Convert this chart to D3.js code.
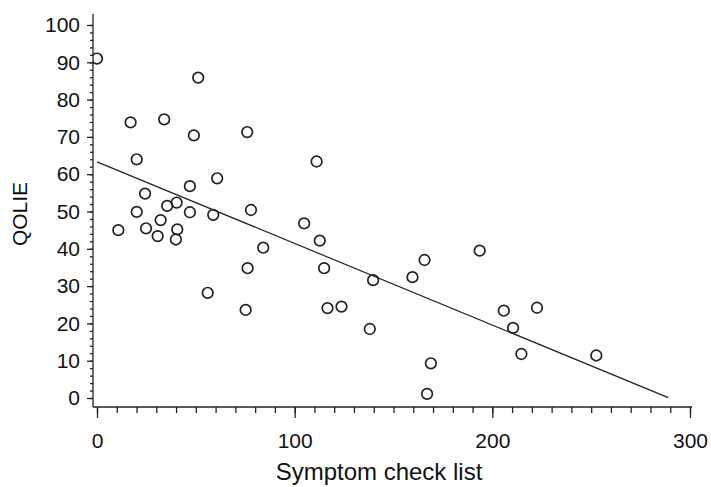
<!DOCTYPE html>
<html>
<head>
<meta charset="utf-8">
<script src="https://cdn.jsdelivr.net/npm/d3@7"></script>
<style>
  body { margin: 0; background: #fff; }
  text { font-family: Arial, "Liberation Sans", sans-serif; fill: #111; }
</style>
</head>
<body>
<svg id="chart"></svg>
<script>
const width = 711,
      height = 487;

// symptom check list score vs QOLIE score
const symptomScores = [0, 51.2, 17, 34, 49, 76, 20.1, 60.8, 47, 24.3,
    40.3, 35.5, 10.8, 20.1, 24.8, 32.2, 30.7, 40.6, 39.9, 47,
    58.8, 77.9, 56, 76.2, 75.2, 84.1, 111.1, 104.8, 112.7, 114.9,
    139.7, 159.6, 165.7, 116.6, 123.7, 193.6, 205.8, 222.6, 210.5, 214.7,
    252.6, 168.9, 167, 138];
const qolieScores = [91, 85.9, 73.9, 74.7, 70.4, 71.3, 64, 58.9, 56.8, 54.8,
    52.4, 51.5, 45, 49.9, 45.5, 47.7, 43.4, 45.2, 42.5, 49.8,
    49.1, 50.4, 28.2, 34.8, 23.6, 40.3, 63.4, 46.8, 42.2, 34.8,
    31.6, 32.4, 37, 24.1, 24.5, 39.5, 23.4, 24.2, 18.8, 11.8,
    11.4, 9.3, 1.1, 18.5];

// fitted line end points
const fitX = [0, 289];
const fitY = [63.3, 0.1];

const xTicks = [0, 100, 200, 300];
const yTicks = [0, 10, 20, 30, 40, 50, 60, 70, 80, 90, 100];

const svg = d3.select("#chart").attr("width", width).attr("height", height);

const x = d3.scaleLinear().domain([0, 300]).range([97, 690]);
const y = d3.scaleLinear().domain([0, 100]).range([398, 25]);

const axisX = 407, axisY = 93;   // axes sit a bit outside the data origin

// y axis
const yAxis = svg.append("g").attr("transform", `translate(${axisY},0)`);
yAxis.call(d3.axisLeft(y).tickValues(d3.range(0, 101, 2)).tickSize(3).tickFormat(""));
yAxis.call(g => g.selectAll(".domain").remove());
const yMajor = svg.append("g").attr("transform", `translate(${axisY},0)`)
    .call(d3.axisLeft(y).tickValues(yTicks).tickSize(6).tickPadding(7).tickFormat(d3.format("d")));
yMajor.select(".domain").remove();
yMajor.selectAll("text").style("font-size", "21px").attr("fill", "#111");
svg.append("line").attr("x1", axisY).attr("x2", axisY).attr("y1", 14).attr("y2", axisX)
    .attr("stroke", "#222").attr("stroke-width", 1.3);

// x axis
const xAxis = svg.append("g").attr("transform", `translate(0,${axisX})`);
xAxis.call(d3.axisBottom(x).tickValues(d3.range(0, 301, 10)).tickSize(6).tickFormat(""));
xAxis.select(".domain").remove();
const xMajor = svg.append("g").attr("transform", `translate(0,${axisX})`)
    .call(d3.axisBottom(x).tickValues(xTicks).tickSize(11).tickPadding(15).tickFormat(d3.format("d")));
xMajor.select(".domain").remove();
xMajor.selectAll("text").style("font-size", "21px").attr("fill", "#111");
svg.append("line").attr("x1", axisY).attr("x2", 692).attr("y1", axisX).attr("y2", axisX)
    .attr("stroke", "#222").attr("stroke-width", 1.3);

svg.selectAll(".tick line").attr("stroke", "#222").attr("stroke-width", 1.3);

// titles
svg.append("text").attr("x", 379).attr("y", 480).attr("text-anchor", "middle")
    .style("font-size", "24px").text("Symptom check list");
svg.append("text").attr("transform", "translate(27,214) rotate(-90)").attr("text-anchor", "middle")
    .style("font-size", "21px").text("QOLIE");

// clip points to the right of the y axis
svg.append("clipPath").attr("id", "plotClip")
    .append("rect").attr("x", axisY).attr("y", 0).attr("width", width).attr("height", axisX);

const points = symptomScores.map((s, i) => ({ s: s, q: qolieScores[i] }));

svg.append("g").attr("clip-path", "url(#plotClip)")
    .selectAll("circle")
    .data(points)
    .enter()
    .append("circle")
    .attr("cx", d => x(d.s))
    .attr("cy", d => y(d.q))
    .attr("r", 5.3)
    .attr("fill", "none")
    .attr("stroke", "#222")
    .attr("stroke-width", 1.7);

svg.append("line")
    .attr("x1", x(fitX[0])).attr("y1", y(fitY[0]))
    .attr("x2", x(fitX[1])).attr("y2", y(fitY[1]))
    .attr("stroke", "#222").attr("stroke-width", 1.2);
</script>
</body>
</html>
